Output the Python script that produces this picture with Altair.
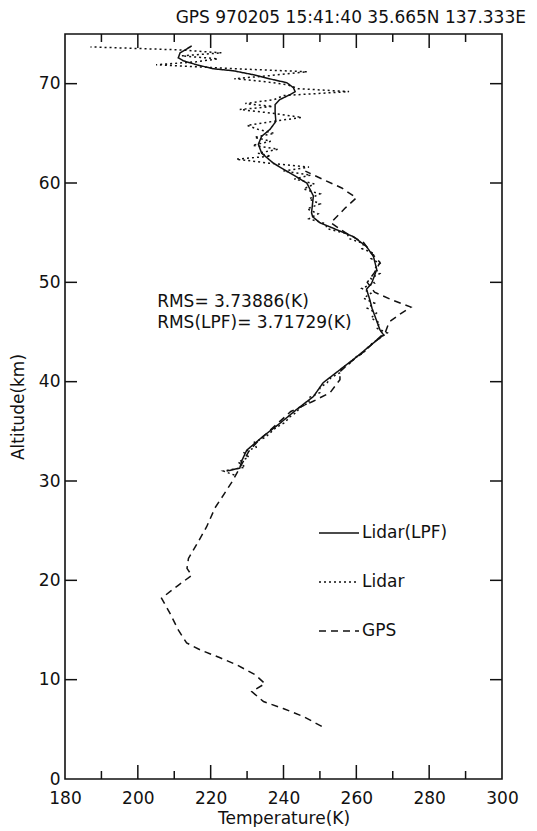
import altair as alt
import pandas as pd

W, H = 437, 745
FONT = "DejaVu Sans"
INK = "#111111"

title_text = "GPS 970205 15:41:40 35.665N 137.333E"
series_names = ["Lidar(LPF)", "Lidar", "GPS"]

lpf_km = [31.0, 31.3, 32.0, 33.1, 34.5, 35.8, 37.2, 38.5, 39.9, 41.2, 42.5, 43.9, 44.7,
          45.2, 46.6, 47.4, 48.25, 49.3, 49.9, 51.3, 52.6, 53.6, 54.6, 55.3, 56.0, 56.6,
          57.0, 58.7, 60.0, 61.0, 62.0, 63.0, 63.9, 64.7, 65.4, 66.2, 67.1, 67.9, 68.4,
          68.9, 69.2, 69.6, 70.1, 70.4, 70.9, 71.3, 71.5, 71.9, 72.3, 72.6, 73.1, 73.8]
lpf_temp = [224.4, 228.0, 228.5, 229.9, 234.4, 239.0, 243.6, 248.2, 250.9, 255.5, 260.1,
            264.7, 267.5, 266.5, 265.1, 264.3, 263.7, 262.8, 264.2, 265.6, 264.7, 262.8,
            259.2, 254.6, 250.0, 248.0, 247.7, 248.2, 246.4, 241.8, 237.2, 234.0, 233.1,
            234.0, 236.3, 237.9, 237.7, 237.7, 239.0, 241.8, 243.2, 242.7, 240.9, 237.2,
            231.7, 226.2, 220.7, 216.2, 212.5, 211.1, 211.6, 214.8]

lidar_km = [30.6, 31.0, 31.4, 31.9, 32.4, 32.9, 33.4, 33.9, 34.4, 34.9, 35.4, 35.9, 36.4,
            36.9, 37.4, 37.9, 38.4, 38.9, 39.4, 39.9, 40.4, 40.9, 41.4, 41.9, 42.4, 42.9,
            43.4, 43.9, 44.4, 44.9, 45.4, 45.9, 46.4, 46.9, 47.4, 47.9, 48.4, 48.9, 49.4,
            49.9, 50.4, 50.9, 51.4, 51.9, 52.4, 52.9, 53.4, 53.9, 54.4, 54.9, 55.4, 55.9,
            56.4, 56.9, 57.4, 57.9, 58.4, 58.9, 59.4, 59.9, 60.4, 60.8, 61.2, 61.6, 62.0,
            62.4, 62.7, 63.0, 63.4, 63.8, 64.2, 64.6, 65.0, 65.4, 65.8, 66.2, 66.6, 67.0,
            67.4, 67.7, 68.0, 68.4, 68.8, 69.2, 69.5, 69.9, 70.2, 70.5, 70.8, 71.2, 71.5,
            71.9, 72.2, 72.5, 72.8, 73.1, 73.4, 73.7]
lidar_temp = [226.5, 223.5, 229.5, 227.5, 230.5, 229.0, 232.5, 232.0, 235.0, 236.5, 238.0,
              240.5, 241.5, 243.5, 244.5, 247.0, 247.0, 250.0, 250.0, 252.0, 253.0, 255.5,
              256.0, 258.5, 259.5, 262.0, 263.0, 264.5, 266.5, 268.5, 265.5, 266.5, 264.0,
              265.5, 263.0, 265.0, 262.0, 264.0, 261.5, 265.0, 264.0, 266.5, 265.0, 266.5,
              264.0, 265.0, 261.5, 262.0, 258.0, 257.5, 252.0, 251.5, 247.0, 249.5, 246.5,
              250.0, 247.0, 250.0, 245.5, 248.5, 243.0, 247.5, 240.0, 247.0, 236.0, 227.0,
              236.5, 233.0, 238.5, 231.5, 236.5, 232.0, 237.5, 233.0, 230.0, 237.0, 245.0,
              237.5, 228.0, 237.0, 229.5, 237.5, 240.0, 258.0, 244.0, 241.0, 235.0, 226.5,
              236.0, 246.5, 227.0, 205.0, 216.0, 222.0, 212.0, 223.0, 211.5, 187.0]

gps_km = [5.3, 6.3, 7.1, 7.8, 8.8, 9.6, 10.5, 11.5, 12.2, 13.0, 13.7, 15.0, 16.7, 18.2,
          19.5, 20.5, 21.2, 22.2, 23.9, 25.4, 27.3, 28.8, 30.0, 31.0, 32.0, 33.0, 34.0,
          35.0, 36.0, 37.0, 38.0, 38.9, 40.2, 41.0, 42.0, 43.0, 44.0, 45.0, 46.0, 46.8,
          47.5, 48.2, 49.0, 50.0, 51.0, 52.0, 53.0, 54.0, 55.0, 56.0, 57.5, 58.5, 59.5,
          60.5, 61.2]
gps_temp = [250.5, 245.4, 239.9, 234.5, 231.3, 234.9, 232.2, 227.1, 222.6, 217.1, 213.4,
            211.1, 208.8, 206.5, 211.1, 214.8, 213.5, 213.9, 216.6, 218.9, 221.2, 223.9,
            226.0, 227.5, 229.0, 230.5, 233.0, 236.0, 239.0, 242.0, 248.0, 252.8, 255.5,
            255.5, 258.5, 262.0, 265.0, 268.0, 269.0, 272.0, 275.0, 270.0, 265.0, 263.0,
            265.0, 266.5, 264.0, 262.0, 257.0, 253.0, 257.0, 260.0, 256.0, 250.0, 246.0]

x_label_values = [180, 200, 220, 240, 260, 280, 300]
x_major_ticks = [200, 220, 240, 260, 280]
x_minor_ticks = [190, 210, 230, 250, 270, 290]
y_label_values = [0, 10, 20, 30, 40, 50, 60, 70]
y_ticks = [10, 20, 30, 40, 50, 60, 70]

rms_text = ["RMS= 3.73886(K)", "RMS(LPF)= 3.71729(K)"]
rms_temp = [205.3, 205.3]
rms_km = [48.0, 45.9]

df = pd.concat([
    pd.DataFrame({"temp": lpf_temp, "km": lpf_km, "series": series_names[0]}),
    pd.DataFrame({"temp": lidar_temp, "km": lidar_km, "series": series_names[1]}),
    pd.DataFrame({"temp": gps_temp, "km": gps_km, "series": series_names[2]}),
], ignore_index=True)

xs = alt.Scale(domain=[180, 300], nice=False, zero=False)
ys = alt.Scale(domain=[0, 75], nice=False, zero=False)
x_axis = alt.Axis(values=x_label_values, title="Temperature(K)", labelPadding=11,
                  titleY=44, titleBaseline="alphabetic", labelFlush=False)
y_axis = alt.Axis(values=y_label_values, title="Altitude(km)", labelPadding=5,
                  titlePadding=11, labelFlush=False)

lines = alt.Chart(df).mark_line(color=INK, strokeWidth=1.5, clip=True).encode(
    x=alt.X("temp:Q", scale=xs, axis=x_axis),
    y=alt.Y("km:Q", scale=ys, axis=y_axis),
    order=alt.Order("km:Q"),
    strokeDash=alt.StrokeDash(
        "series:N",
        scale=alt.Scale(domain=series_names, range=[[1, 0], [2, 3], [7, 5]]),
        legend=alt.Legend(
            title=None, orient="none", legendX=253, legendY=478,
            symbolType="stroke", symbolSize=1600, symbolStrokeWidth=1.5,
            symbolStrokeColor=INK, labelFont=FONT, labelFontSize=17, labelColor=INK,
            labelOffset=2, rowPadding=20, padding=0,
        ),
    ),
)

xmaj = pd.DataFrame({"temp": x_major_ticks})
xmin = pd.DataFrame({"temp": x_minor_ticks})
yt = pd.DataFrame({"km": y_ticks})

def xrule(data, y0, y1):
    return alt.Chart(data).mark_rule(color=INK, strokeWidth=1.5).encode(
        x=alt.X("temp:Q", scale=xs, axis=x_axis), y=alt.value(y0), y2=alt.value(y1))

def yrule(x0, x1):
    return alt.Chart(yt).mark_rule(color=INK, strokeWidth=1.5).encode(
        y=alt.Y("km:Q", scale=ys, axis=y_axis), x=alt.value(x0), x2=alt.value(x1))

ticks = [
    xrule(xmaj, H, H - 14), xrule(xmaj, 0, 14),
    xrule(xmin, H, H - 8), xrule(xmin, 0, 8),
    yrule(0, 12), yrule(W, W - 12),
]

rms = alt.Chart(pd.DataFrame({"temp": rms_temp, "km": rms_km, "txt": rms_text})).mark_text(
    align="left", baseline="middle", font=FONT, fontSize=17, color=INK
).encode(
    x=alt.X("temp:Q", scale=xs, axis=x_axis),
    y=alt.Y("km:Q", scale=ys, axis=y_axis),
    text="txt:N",
)

chart = alt.layer(lines, *ticks, rms).properties(
    width=W, height=H,
    padding={"left": 57, "top": 26, "right": 27, "bottom": 48},
    autosize=alt.AutoSizeParams(type="none"),
    background="white",
    title=alt.TitleParams(text=title_text, anchor="end", frame="group", dx=24, offset=6,
                          font=FONT, fontSize=17, fontWeight="normal", color=INK),
).configure_view(stroke=INK, strokeWidth=1.6).configure_axis(
    domain=False, ticks=False, grid=False, labelFont=FONT, labelFontSize=17,
    labelColor=INK, titleFont=FONT, titleFontSize=17, titleFontWeight="normal",
    titleColor=INK,
)

chart.save("out.html", embed_options={"renderer": "svg", "actions": False})
